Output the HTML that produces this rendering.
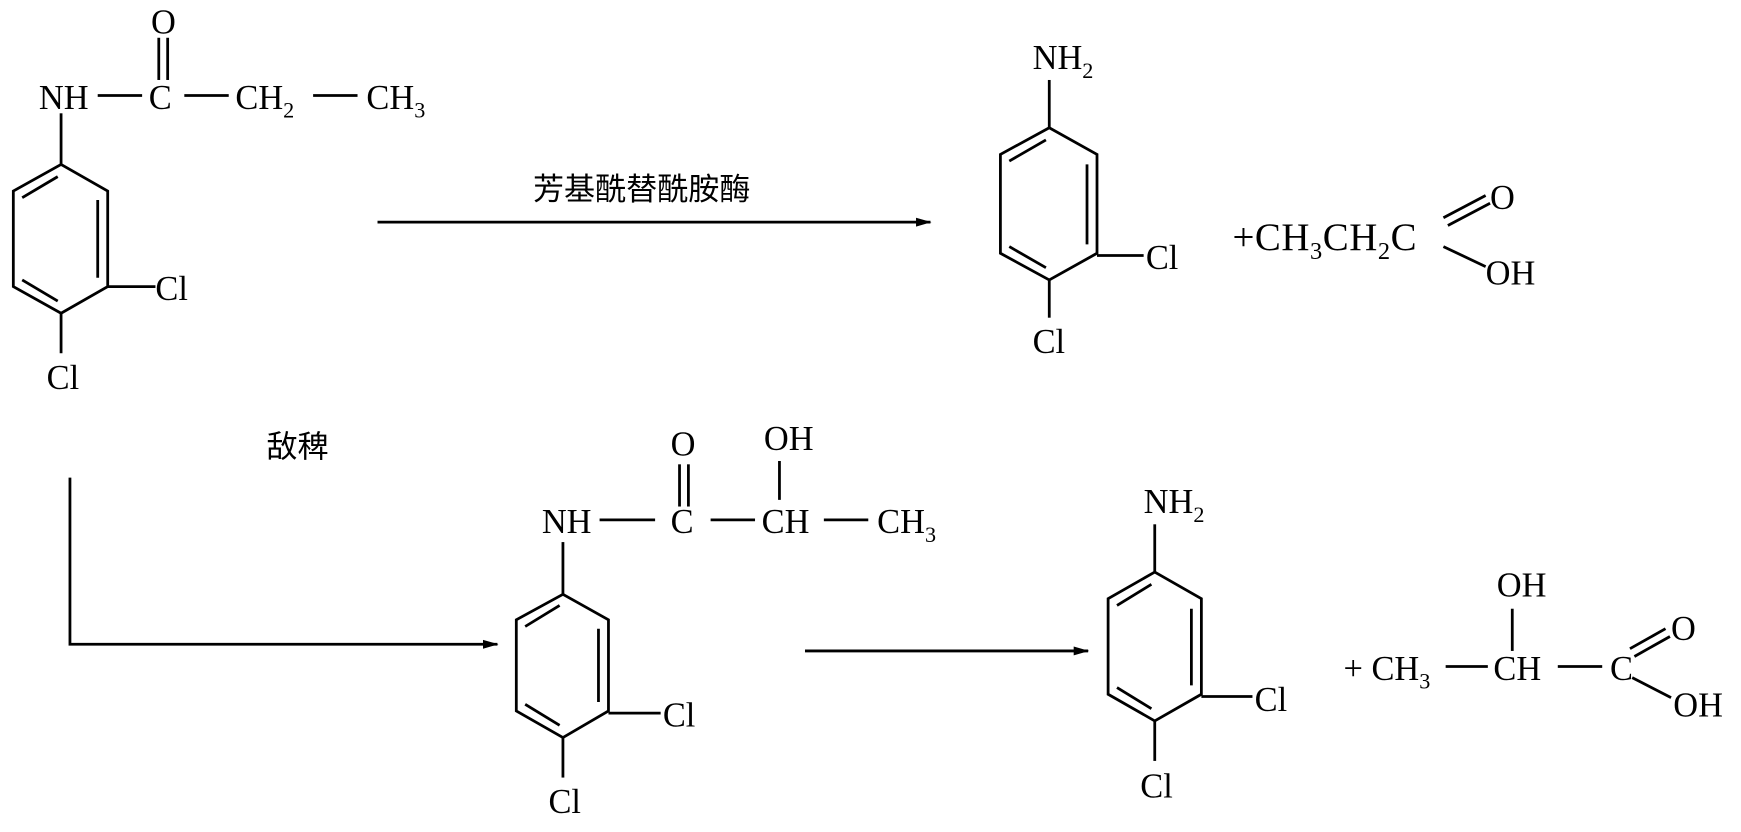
<!DOCTYPE html>
<html><head><meta charset="utf-8"><style>
html,body{margin:0;padding:0;background:#fff;}
svg{display:block}
text{font-family:"Liberation Serif","Noto Serif CJK SC",serif;font-size:31px;fill:#000}
.cn{font-family:"Liberation Sans","Noto Sans CJK SC",sans-serif;font-size:28px}
line,polyline{stroke:#000;stroke-width:2.5;fill:none}
</style></head><body>
<svg width="1741" height="832" viewBox="0 0 1568 749" preserveAspectRatio="none">
<defs><marker id="a" markerWidth="14" markerHeight="10" refX="13" refY="5" orient="auto" markerUnits="userSpaceOnUse"><path d="M0,1 L14,5 L0,9 z" fill="#000"/></marker></defs>

<text x="35" y="98">NH</text>
<line x1="88" y1="86" x2="128" y2="86"/>
<text x="134" y="98">C</text>
<line x1="143" y1="34" x2="143" y2="72"/><line x1="151" y1="34" x2="151" y2="72"/>
<text x="136" y="30">O</text>
<line x1="166" y1="86" x2="206" y2="86"/>
<text x="212" y="98">CH<tspan font-size="20" dy="8">2</tspan></text>
<line x1="282" y1="86" x2="322" y2="86"/>
<text x="330" y="98">CH<tspan font-size="20" dy="8">3</tspan></text>
<line x1="55" y1="102" x2="55" y2="148"/>
<polyline points="55,148 97,172 97,258 55,282 12,258 12,172 55,148"/>
<line x1="88" y1="180" x2="88" y2="250"/>
<line x1="20" y1="252" x2="52" y2="271"/>
<line x1="20" y1="178" x2="52" y2="159"/>
<line x1="97" y1="258" x2="140" y2="258"/>
<text x="140" y="270">Cl</text>
<line x1="55" y1="282" x2="55" y2="318"/>
<text x="42" y="350">Cl</text>

<text class="cn" x="480" y="180">芳基酰替酰胺酶</text>
<line x1="340" y1="200" x2="838" y2="200" marker-end="url(#a)"/>

<text x="930" y="62">NH<tspan font-size="20" dy="8">2</tspan></text>
<line x1="945" y1="72" x2="945" y2="115"/>
<polyline points="945,115 988,139 988,228 945,252 901,228 901,139 945,115"/>
<line x1="979" y1="148" x2="979" y2="220"/>
<line x1="909" y1="222" x2="942" y2="241"/>
<line x1="909" y1="145" x2="942" y2="126"/>
<line x1="988" y1="230" x2="1030" y2="230"/>
<text x="1032" y="242">Cl</text>
<line x1="945" y1="252" x2="945" y2="286"/>
<text x="930" y="318">Cl</text>
<text x="1110" y="225" style="font-size:35px;letter-spacing:0.5px">+CH<tspan style="font-size:22px" dy="8">3</tspan><tspan dy="-8">CH</tspan><tspan style="font-size:22px" dy="8">2</tspan><tspan dy="-8">C</tspan></text>
<line x1="1300" y1="196" x2="1338" y2="176"/><line x1="1304" y1="203" x2="1342" y2="183"/>
<text x="1342" y="188">O</text>
<line x1="1300" y1="222" x2="1338" y2="240"/>
<text x="1338" y="256">OH</text>

<text class="cn" x="240" y="412">敌稗</text>
<polyline points="63,430 63,580 448,580" marker-end="url(#a)"/>

<text x="604" y="410">O</text>
<line x1="612" y1="418" x2="612" y2="456"/><line x1="620" y1="418" x2="620" y2="456"/>
<text x="688" y="405">OH</text>
<line x1="702" y1="415" x2="702" y2="450"/>
<text x="488" y="480">NH</text>
<line x1="540" y1="468" x2="590" y2="468"/>
<text x="604" y="480">C</text>
<line x1="640" y1="468" x2="680" y2="468"/>
<text x="686" y="480">CH</text>
<line x1="742" y1="468" x2="782" y2="468"/>
<text x="790" y="480">CH<tspan font-size="20" dy="8">3</tspan></text>
<line x1="507" y1="488" x2="507" y2="535"/>
<polyline points="507,535 548,558 548,640 507,664 465,640 465,558 507,535"/>
<line x1="539" y1="566" x2="539" y2="632"/>
<line x1="473" y1="634" x2="504" y2="653"/>
<line x1="473" y1="564" x2="504" y2="545"/>
<line x1="548" y1="642" x2="595" y2="642"/>
<text x="597" y="654">Cl</text>
<line x1="507" y1="664" x2="507" y2="700"/>
<text x="494" y="732">Cl</text>

<line x1="725" y1="586" x2="980" y2="586" marker-end="url(#a)"/>

<text x="1030" y="462">NH<tspan font-size="20" dy="8">2</tspan></text>
<line x1="1040" y1="472" x2="1040" y2="515"/>
<polyline points="1040,515 1082,539 1082,625 1040,649 998,625 998,539 1040,515"/>
<line x1="1073" y1="548" x2="1073" y2="617"/>
<line x1="1006" y1="619" x2="1037" y2="638"/>
<line x1="1006" y1="545" x2="1037" y2="526"/>
<line x1="1082" y1="627" x2="1128" y2="627"/>
<text x="1130" y="640">Cl</text>
<line x1="1040" y1="649" x2="1040" y2="685"/>
<text x="1027" y="718">Cl</text>
<text x="1210" y="612">+ CH<tspan font-size="20" dy="8">3</tspan></text>
<line x1="1302" y1="600" x2="1340" y2="600"/>
<text x="1345" y="612">CH</text>
<text x="1348" y="537">OH</text>
<line x1="1362" y1="548" x2="1362" y2="586"/>
<line x1="1403" y1="600" x2="1443" y2="600"/>
<text x="1450" y="612">C</text>
<line x1="1468" y1="584" x2="1500" y2="566"/><line x1="1472" y1="591" x2="1504" y2="573"/>
<text x="1505" y="576">O</text>
<line x1="1470" y1="610" x2="1505" y2="628"/>
<text x="1507" y="645">OH</text>
</svg>
</body></html>
